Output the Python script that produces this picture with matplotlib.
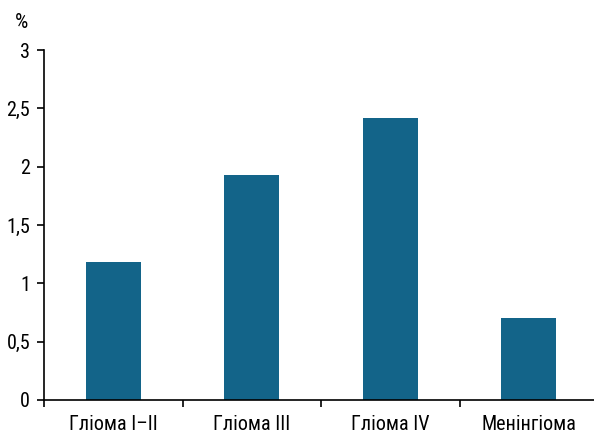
import matplotlib
matplotlib.use("Agg")
from matplotlib import pyplot as plt

categories = ["Гліома I–II", "Гліома III", "Гліома IV", "Менінгіома"]
values = [1.18, 1.93, 2.42, 0.70]
yticks = [0, 0.5, 1, 1.5, 2, 2.5, 3]
ytick_labels = ["0", "0,5", "1", "1,5", "2", "2,5", "3"]

plt.rcParams['font.family'] = ['Roboto Condensed', 'Liberation Sans Narrow', 'DejaVu Sans']
plt.rcParams['font.stretch'] = 'condensed'

fig = plt.figure(figsize=(5.94, 4.38), dpi=100)
ax = fig.add_axes([0.0741, 0.0868, 0.9327, 0.799])

x = list(range(len(categories)))
ax.bar(x, values, width=0.4, color="#136489")

ax.set_xlim(-0.5, 3.5)
ax.set_ylim(0, 3)
ax.set_yticks(yticks)
ax.set_yticklabels(ytick_labels, fontsize=14.5)
ax.set_xticks([-0.5, 0.5, 1.5, 2.5])
ax.set_xticklabels([])
ax.set_xticks(x, minor=True)
ax.set_xticklabels(categories, minor=True, fontsize=14.5)
ax.tick_params(axis="x", which="minor", length=0, pad=11)
ax.tick_params(axis="x", which="major", length=5, width=1.2, direction="out")
ax.tick_params(axis="y", length=5, width=1.2, direction="out", pad=5)

for s in ["top", "right"]:
    ax.spines[s].set_visible(False)
ax.spines["left"].set_linewidth(1.2)
ax.spines["bottom"].set_linewidth(1.2)

fig.text(0.037, 0.948, "%", fontsize=15, ha="center", va="center")

fig.savefig("out.png", dpi=100)
